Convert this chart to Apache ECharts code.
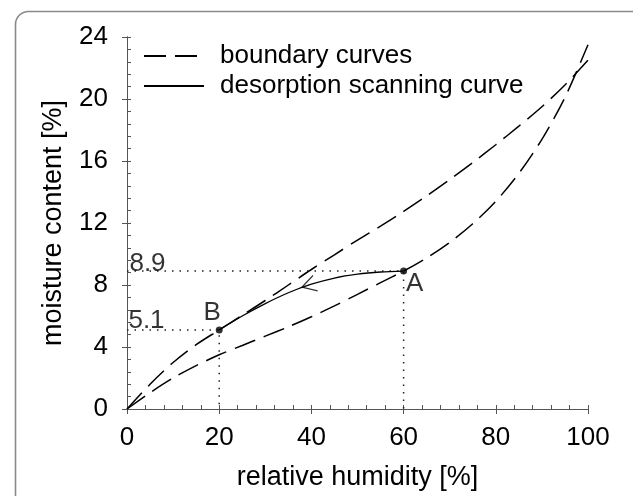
<!DOCTYPE html>
<html>
<head>
<meta charset="utf-8">
<title>Sorption hysteresis</title>
<script src="https://cdn.jsdelivr.net/npm/echarts@6/dist/echarts.min.js"></script>
<style>
  html, body { margin: 0; padding: 0; background: #fff; }
  #chart { width: 633px; height: 496px; }
</style>
</head>
<body>
<div id="chart"></div>
<script>
// Relative humidity grid used by both boundary curves [%]
const humidity = [0, 5, 10, 15, 20, 25, 30, 35, 40, 45, 50, 55, 60, 65, 70, 75, 80, 85, 90, 95, 100];
// Boundary desorption curve (upper branch), moisture content [%]
const desorptionBoundary = [0, 1.6, 3.0, 4.15, 5.1, 6.05, 7.0, 8.0, 9.0, 9.95, 10.9, 11.8, 12.75, 13.75, 14.8, 15.9, 17.05, 18.25, 19.5, 20.9, 22.5];
// Boundary adsorption curve (lower branch), moisture content [%]
const adsorptionBoundary = [0, 1.05, 2.0, 2.8, 3.5, 4.1, 4.7, 5.3, 5.95, 6.65, 7.4, 8.15, 8.9, 9.75, 10.75, 11.95, 13.4, 15.2, 17.4, 20.1, 23.5];

// Desorption scanning curve between B and A
const scanHumidity = [20, 25, 30, 35, 40, 45, 50, 55, 60];
const scanMoisture = [5.1, 6.0, 6.8, 7.5, 8.05, 8.45, 8.7, 8.84, 8.9];

// Turning points of the scanning curve
const pointNames = ['A', 'B'];
const pointHumidity = [60, 20];
const pointMoisture = [8.9, 5.1];

// Direction marker on the scanning curve
const arrowPoint = [39.4, 7.99];

const xTicks = { min: 0, max: 100, interval: 20 };
const yTicks = { min: 0, max: 24, interval: 4 };

const FONT = '"Liberation Sans", Arial, sans-serif';
const INK = '#000';
const AXIS = '#555';

const zip = (xs, ys) => xs.map((x, i) => [x, ys[i]]);

const chart = echarts.init(document.getElementById('chart'), null, { renderer: 'canvas' });

const guideLines = pointNames.map((n, i) => ({
  type: 'line',
  name: 'guide ' + n,
  xAxisIndex: 0, yAxisIndex: 0,
  data: [[0, pointMoisture[i]], [pointHumidity[i], pointMoisture[i]], [pointHumidity[i], 0]],
  symbol: 'none',
  silent: true,
  lineStyle: { color: '#222', width: 1.5, type: [1.5, 6] },
  z: 1
}));

// Read-off values written beside the y axis
const valueLabels = {
  type: 'scatter',
  name: 'value labels',
  xAxisIndex: 0, yAxisIndex: 0,
  data: pointMoisture.map(v => ({
    value: [0, v],
    label: { offset: v > 7 ? [20.5, -7.5] : [19.5, -9.5] }
  })),
  symbol: 'circle',
  symbolSize: 0.1,
  itemStyle: { color: INK },
  label: {
    show: true,
    position: 'inside',
    formatter: p => p.value[1].toFixed(1),
    color: INK, fontFamily: FONT, fontSize: 26,
    textBorderWidth: 0
  },
  silent: true,
  z: 5
};

const turningPoints = {
  type: 'scatter',
  name: 'turning points',
  xAxisIndex: 0, yAxisIndex: 0,
  data: pointNames.map((n, i) => ({
    name: n,
    value: [pointHumidity[i], pointMoisture[i]],
    label: { offset: n === 'A' ? [11, 13] : [-7, -17] }
  })),
  symbol: 'circle',
  symbolSize: 7,
  itemStyle: { color: INK },
  label: {
    show: true,
    position: 'inside',
    formatter: p => p.name,
    color: INK, fontFamily: FONT, fontSize: 26,
    textBorderWidth: 0
  },
  silent: true,
  z: 6
};

const arrowHead = {
  type: 'scatter',
  name: 'direction',
  xAxisIndex: 0, yAxisIndex: 0,
  data: [arrowPoint],
  symbol: 'path://M14,0 L0,8 L14,16',
  symbolSize: [14, 16],
  symbolRotate: 17,
  itemStyle: { color: 'rgba(0,0,0,0)', borderColor: INK, borderWidth: 1.2 },
  silent: true,
  z: 6
};

const dashed = { color: INK, width: 1.5, type: [22, 9] };

chart.setOption({
  animation: false,
  backgroundColor: '#fff',
  textStyle: { fontFamily: FONT },
  graphic: [{
    type: 'rect',
    left: 13, top: 9,
    shape: { width: 700, height: 600, r: 13 },
    style: { fill: 'none', stroke: '#8a8a8a', lineWidth: 1.6 },
    silent: true,
    z: -10
  }],
  grid: { left: 127, right: 45, top: 37, bottom: 87 },
  legend: {
    data: ['boundary curves', 'desorption scanning curve'],
    orient: 'vertical',
    left: 143, top: 43,
    padding: 0,
    itemWidth: 60, itemHeight: 14, itemGap: 4,
    selectedMode: false,
    itemStyle: { color: 'rgba(0,0,0,0)', borderColor: 'rgba(0,0,0,0)', borderWidth: 0 },
    textStyle: { color: INK, fontFamily: FONT, fontSize: 26, lineHeight: 26, padding: [0, 0, 0, 11] }
  },
  xAxis: [
    {
      type: 'value', position: 'bottom', min: xTicks.min, max: xTicks.max, interval: xTicks.interval,
      name: 'relative humidity [%]', nameLocation: 'middle', nameGap: 55,
      nameTextStyle: { color: INK, fontFamily: FONT, fontSize: 27 },
      axisLine: { show: true, lineStyle: { color: AXIS, width: 1 } },
      axisTick: { show: true, inside: false, length: 5, lineStyle: { color: AXIS } },
      axisLabel: { color: INK, fontFamily: FONT, fontSize: 26, margin: 16 },
      splitLine: { show: false }
    },
    {
      type: 'value', position: 'bottom', min: xTicks.min, max: xTicks.max, interval: xTicks.interval,
      axisLine: { show: false },
      axisTick: { show: true, inside: true, length: 4, lineStyle: { color: AXIS } },
      minorTick: { show: true, splitNumber: 5, length: 4, lineStyle: { color: AXIS } },
      axisLabel: { show: false },
      splitLine: { show: false }
    },
    {
      type: 'value', position: 'top', min: xTicks.min, max: xTicks.max, interval: xTicks.interval,
      axisLine: { show: true, lineStyle: { color: AXIS, width: 1 } },
      axisTick: { show: true, inside: true, length: 5, lineStyle: { color: AXIS } },
      axisLabel: { show: false },
      splitLine: { show: false }
    }
  ],
  yAxis: [
    {
      type: 'value', position: 'left', min: yTicks.min, max: yTicks.max, interval: yTicks.interval,
      name: 'moisture content [%]', nameLocation: 'middle', nameGap: 60,
      nameTextStyle: { color: INK, fontFamily: FONT, fontSize: 27 },
      axisLine: { show: true, lineStyle: { color: AXIS, width: 1 } },
      axisTick: { show: true, inside: false, length: 5, lineStyle: { color: AXIS } },
      axisLabel: { color: INK, fontFamily: FONT, fontSize: 26, margin: 19 },
      splitLine: { show: false }
    },
    {
      type: 'value', position: 'left', min: yTicks.min, max: yTicks.max, interval: yTicks.interval,
      axisLine: { show: false },
      axisTick: { show: true, inside: true, length: 4, lineStyle: { color: AXIS } },
      minorTick: { show: true, splitNumber: 5, length: 4, lineStyle: { color: AXIS } },
      axisLabel: { show: false },
      splitLine: { show: false }
    },
    {
      type: 'value', position: 'right', min: yTicks.min, max: yTicks.max, interval: yTicks.interval,
      axisLine: { show: true, lineStyle: { color: AXIS, width: 1 } },
      axisTick: { show: true, inside: true, length: 5, lineStyle: { color: AXIS } },
      axisLabel: { show: false },
      splitLine: { show: false }
    }
  ],
  series: [
    {
      type: 'line', name: 'boundary curves', xAxisIndex: 0, yAxisIndex: 0,
      data: zip(humidity, desorptionBoundary), symbol: 'none', smooth: 0.3,
      itemStyle: { color: INK }, lineStyle: dashed, z: 3
    },
    {
      type: 'line', name: 'boundary curves', xAxisIndex: 0, yAxisIndex: 0,
      data: zip(humidity, adsorptionBoundary), symbol: 'none', smooth: 0.3,
      itemStyle: { color: INK }, lineStyle: dashed, z: 3
    },
    {
      type: 'line', name: 'desorption scanning curve', xAxisIndex: 0, yAxisIndex: 0,
      data: zip(scanHumidity, scanMoisture), symbol: 'none', smooth: 0.3,
      itemStyle: { color: INK }, lineStyle: { color: INK, width: 1.3, type: 'solid' }, z: 4
    },
    ...guideLines,
    valueLabels,
    turningPoints,
    arrowHead
  ]
});
</script>
</body>
</html>
